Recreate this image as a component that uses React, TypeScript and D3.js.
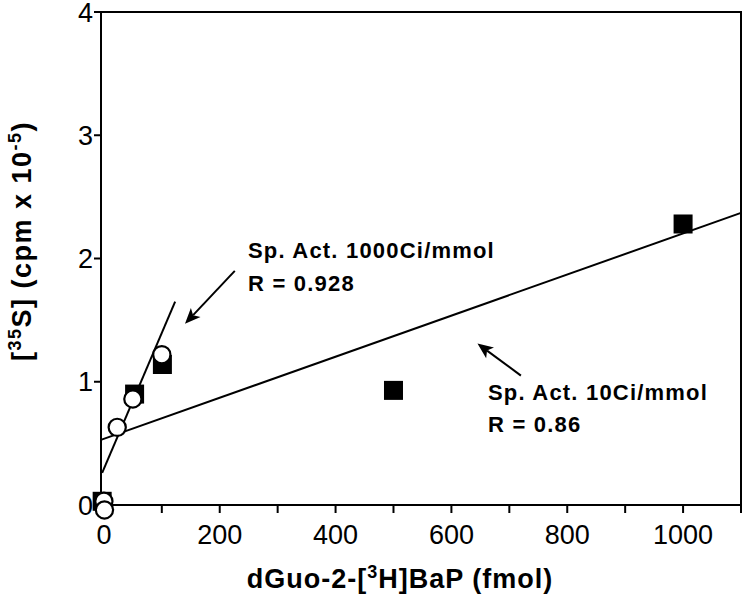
import React from "react";
import * as d3 from "d3";

// 10 Ci/mmol series (filled squares)
const squareX = [-3, 53, 101, 500, 1000];
const squareY = [0.03, 0.9, 1.14, 0.93, 2.28];
// 1000 Ci/mmol series (open circles)
const circleX = [0, 1, 23, 50, 100];
const circleY = [0.03, -0.04, 0.63, 0.86, 1.22];

// Regression lines: endpoints in data units
const fitLowX = [-4, 1100];
const fitLowY = [0.53, 2.37];
const fitHighX = [-3, 123];
const fitHighY = [0.26, 1.65];

const xTicks = [0, 100, 200, 300, 400, 500, 600, 700, 800, 900, 1000, 1100];
const xLabels = [0, 200, 400, 600, 800, 1000];
const yTicks = [0, 1, 2, 3, 4];

const W = 744, H = 605;
const left = 101, right = 741, top = 12, bottom = 505;

export default function App() {
  const x = d3.scaleLinear().domain([-5, 1100]).range([left, right]);
  const y = d3.scaleLinear().domain([0, 4]).range([bottom, top]);
  const line = d3.line<[number, number]>().x(d => x(d[0])).y(d => y(d[1]));
  const font = "'Liberation Sans', Arial, Helvetica, sans-serif";
  const arrow = (x1: number, y1: number, x2: number, y2: number) => {
    const px1 = x(x1), py1 = y(y1), px2 = x(x2), py2 = y(y2);
    const ang = Math.atan2(py2 - py1, px2 - px1);
    const L = 17, w = 0.4;
    const a1 = [px2 - L * Math.cos(ang - w), py2 - L * Math.sin(ang - w)];
    const a2 = [px2 - L * Math.cos(ang + w), py2 - L * Math.sin(ang + w)];
    const bx = px2 - L * 0.7 * Math.cos(ang), by = py2 - L * 0.7 * Math.sin(ang);
    return (
      <g>
        <line x1={px1} y1={py1} x2={bx} y2={by} stroke="#000" strokeWidth={2} />
        <path d={`M${px2},${py2}L${a1[0]},${a1[1]}L${bx},${by}L${a2[0]},${a2[1]}Z`} fill="#000" />
      </g>
    );
  };
  return (
    <svg width={W} height={H} style={{ position: "absolute", left: 0, top: 0, background: "#fff" }} fontFamily={font}>
      <rect x={left} y={top} width={right - left} height={bottom - top} fill="none" stroke="#000" strokeWidth={2} />
      {xTicks.map(t => (
        <line key={"xt" + t} x1={x(t)} x2={x(t)} y1={bottom} y2={bottom + 8} stroke="#000" strokeWidth={2} />
      ))}
      {xLabels.map(t => (
        <text key={"xl" + t} x={x(t)} y={544} textAnchor="middle" fontSize={27}>{t}</text>
      ))}
      {yTicks.map(t => (
        <g key={"yt" + t}>
          <line x1={left - 7} x2={left} y1={y(t)} y2={y(t)} stroke="#000" strokeWidth={2} />
          <text x={93} y={y(t) + 9.5} textAnchor="end" fontSize={27}>{t}</text>
        </g>
      ))}
      <text x={400} y={588} textAnchor="middle" fontSize={27} fontWeight="bold" letterSpacing={1}>
        dGuo-2-[<tspan dy={-10} fontSize={18}>3</tspan><tspan dy={10}>H]BaP (fmol)</tspan>
      </text>
      <text transform={`translate(31,241) rotate(-90)`} textAnchor="middle" fontSize={27} fontWeight="bold" letterSpacing={1.5}>
        [<tspan dy={-10} fontSize={18}>35</tspan><tspan dy={10}>S] (cpm x 10</tspan><tspan dy={-10} fontSize={18}>-5</tspan><tspan dy={10}>)</tspan>
      </text>
      <path d={line([[fitLowX[0], fitLowY[0]], [fitLowX[1], fitLowY[1]]]) || ""} stroke="#000" strokeWidth={2} fill="none" />
      <path d={line([[fitHighX[0], fitHighY[0]], [fitHighX[1], fitHighY[1]]]) || ""} stroke="#000" strokeWidth={2} fill="none" />
      {squareX.map((v, i) => (
        <rect key={"s" + i} x={x(v) - 9.5} y={y(squareY[i]) - 9.5} width={19} height={19} fill="#000" />
      ))}
      {circleX.map((v, i) => (
        <circle key={"c" + i} cx={x(v)} cy={y(circleY[i])} r={8.6} fill="#fff" stroke="#000" strokeWidth={2.2} />
      ))}
      {arrow(226, 1.9, 140, 1.47)}
      {arrow(720, 1.05, 645, 1.31)}
      <text x={248} y={258} fontSize={22} fontWeight="bold" letterSpacing={1.2}>Sp. Act. 1000Ci/mmol</text>
      <text x={248} y={291} fontSize={22} fontWeight="bold" letterSpacing={1.2}>R = 0.928</text>
      <text x={488} y={400} fontSize={22} fontWeight="bold" letterSpacing={1.2}>Sp. Act. 10Ci/mmol</text>
      <text x={488} y={432} fontSize={22} fontWeight="bold" letterSpacing={1.2}>R = 0.86</text>
    </svg>
  );
}
